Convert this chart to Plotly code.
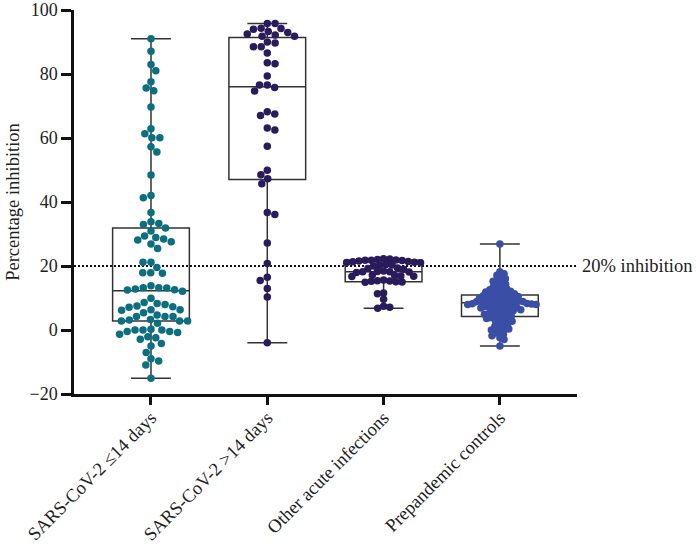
import numpy as np
import plotly.graph_objects as go

categories = ["SARS-CoV-2 ≤14 days", "SARS-CoV-2 >14 days",
              "Other acute infections", "Prepandemic controls"]

g1_values = [91.0, 87.1, 83.0, 81.0, 77.6, 75.6, 74.8, 69.7, 62.9, 61.3, 60.1, 60.1, 57.3, 55.6,
             48.4, 42.0, 41.3, 36.7, 33.8, 33.3, 33.0, 31.9, 30.9,
             29.4, 28.9, 28.4, 28.1, 27.6, 26.9, 25.5, 21.2, 21.2, 19.5, 17.9, 17.9, 17.7, 13.8,
             13.2, 13.2, 13.1, 12.8, 12.6, 12.5, 12.1,
             9.9, 8.6, 8.3, 8.0, 7.5, 7.3, 7.1, 6.3, 6.3, 6.2, 5.4, 4.7, 4.2, 4.2, 4.2, 3.3, 3.1,
             2.8, 2.8, 2.8, 2.1, 0.2, 0.0, 0.0, 0.0, -0.5, -0.5, -0.8, -1.3, -2.1, -2.4, -2.9,
             -4.2, -5.0, -7.0, -9.0, -9.7, -10.9, -15.1]

g2_values = [95.8, 95.8, 94.3, 94.2, 94.0, 93.3, 93.0, 92.5, 92.2, 91.8, 91.8, 90.0, 89.7,
             88.5, 88.5, 86.6, 83.5, 83.2, 79.4, 76.6, 76.6, 75.8, 74.7, 68.2, 67.5, 67.0,
             63.1, 62.5, 57.4, 49.9, 48.5, 47.3, 45.7, 36.7, 36.1, 27.2, 20.8, 16.5, 15.5,
             13.0, 10.3, -4.0]

g3_values = [22.3, 22.2, 22.0, 21.9, 21.8, 21.8, 21.7, 21.6, 21.4, 21.3, 21.2, 21.1, 21.0,
             20.5, 20.3, 20.2, 20.0, 19.4, 19.2, 19.0,
             18.4, 18.3, 18.2, 18.2, 18.1, 18.0, 17.2, 17.0, 16.9, 16.8, 16.7,
             15.6, 15.4, 15.3, 15.2, 15.1, 15.0, 14.9, 11.6, 11.3, 9.6, 7.4, 7.1, 6.8]

g4_values = [26.9, 18.2, 17.6, 17.1, 16.5, 16.0, 15.6, 15.2, 14.8, 14.3, 13.9, 13.5, 13.1,
             12.9, 12.6, 12.4, 12.1, 11.9, 11.7, 11.5, 11.3, 11.2, 11.0,
             10.9, 10.7, 10.5, 10.4, 10.2, 10.0, 9.9, 9.7, 9.5, 9.4, 9.3, 9.1, 9.0,
             8.9, 8.8, 8.7, 8.6, 8.5, 8.4, 8.3, 8.2, 8.2, 8.1, 8.0, 8.0,
             7.8, 7.6, 7.4, 7.2, 7.1, 7.0, 6.9, 6.7, 6.5, 6.3, 6.2, 6.0, 5.8,
             5.6, 5.3, 5.1, 4.9, 4.6, 4.4, 4.2, 4.0, 3.8, 3.6, 3.3,
             3.0, 2.7, 2.4, 2.0, 1.7, 1.3, 1.0, 0.6, 0.3, 0.0, -0.4, -0.9, -1.3, -1.8,
             -2.4, -3.0, -5.0]

# box statistics
box_q1 = [2.8, 47.0, 15.1, 4.2]
box_median = [12.3, 76.0, 18.2, 8.5]
box_q3 = [31.9, 91.4, 21.8, 10.9]

groups = [g1_values, g2_values, g3_values, g4_values]
colors = ["#0b6f80", "#2a1b5c", "#2a1b5c", "#3b4ea6"]
collide = [8.0, 7.8, 6.2, 4.6]   # px collision distance for swarm layout

Y_TICKS = [-20, 0, 20, 40, 60, 80, 100]
Y_TICKTEXT = ["\u221220", "0", "20", "40", "60", "80", "100"]

# pixel scale for swarm layout
PX_PER_X = 116.3
PX_PER_Y = 3.2


def swarm_offsets(vals, D):
    ys = np.asarray(vals, dtype=float) * PX_PER_Y
    order = np.argsort(-ys, kind="stable")
    xs = np.zeros(len(ys))
    placed = []
    flip = 1
    for i in order:
        y = ys[i]
        ivs = []
        for (xj, yj) in placed:
            dy = abs(y - yj)
            if dy < D:
                h = np.sqrt(D * D - dy * dy)
                ivs.append((xj - h, xj + h))
        cands = [0.0] + [a for a, b in ivs] + [b for a, b in ivs]
        cands = sorted(set(round(c, 6) for c in cands),
                       key=lambda c: (abs(c), -flip * np.sign(c)))
        chosen = 0.0
        for c in cands:
            ok = all(not (a + 1e-6 < c < b - 1e-6) for a, b in ivs)
            if ok:
                chosen = c
                break
        if chosen != 0:
            flip = -flip
        xs[i] = chosen
        placed.append((chosen, y))
    return xs / PX_PER_X


fig = go.Figure()

for i, vals in enumerate(groups):
    fig.add_trace(go.Box(
        x=[i], q1=[box_q1[i]], median=[box_median[i]], q3=[box_q3[i]],
        lowerfence=[min(vals)], upperfence=[max(vals)],
        width=0.66, whiskerwidth=0.52, boxpoints=False,
        line=dict(color="#333333", width=1.5),
        fillcolor="rgba(0,0,0,0)", hoverinfo="skip", showlegend=False))

for i, vals in enumerate(groups):
    offs = swarm_offsets(vals, collide[i])
    fig.add_trace(go.Scatter(
        x=i + offs, y=vals, mode="markers",
        marker=dict(color=colors[i], size=7.5, line=dict(width=0)),
        showlegend=False, hoverinfo="y"))

font_family = "Liberation Serif, Times New Roman, serif"

fig.add_shape(type="line", xref="paper", x0=0, x1=1, yref="y", y0=20, y1=20,
              line=dict(color="#111111", width=2, dash="2px,2px"), layer="below")
fig.add_annotation(xref="paper", x=1, yref="y", y=20, text="20% inhibition",
                   showarrow=False, xanchor="left", xshift=3,
                   font=dict(family=font_family, size=18.5, color="#222222"))

fig.update_layout(
    width=698, height=547,
    margin=dict(l=74, r=121, t=10, b=153, autoexpand=False),
    paper_bgcolor="white", plot_bgcolor="white",
    font=dict(family=font_family, size=19, color="#222222"),
    xaxis=dict(range=[-0.662, 3.663], tickvals=[0, 1, 2, 3], ticktext=categories,
               tickangle=-45, ticks="outside", ticklen=8, tickwidth=2.5,
               tickcolor="#111111", showline=True, linewidth=2.5, linecolor="#111111",
               showgrid=False, zeroline=False, tickfont=dict(size=18.5), automargin=False,
               ticklabelstandoff=-5),
    yaxis=dict(range=[-20, 100], tickvals=Y_TICKS, ticktext=Y_TICKTEXT,
               ticks="outside", ticklen=10, tickwidth=2.5, tickcolor="#111111",
               showline=True, linewidth=2.5, linecolor="#111111",
               showgrid=False, zeroline=False, tickfont=dict(size=18), automargin=False,
               title=dict(text="Percentage inhibition", font=dict(size=18.5), standoff=6)),
)

fig.write_html("out.html", config={"displayModeBar": False},
               post_script="document.body.style.margin='0';")
